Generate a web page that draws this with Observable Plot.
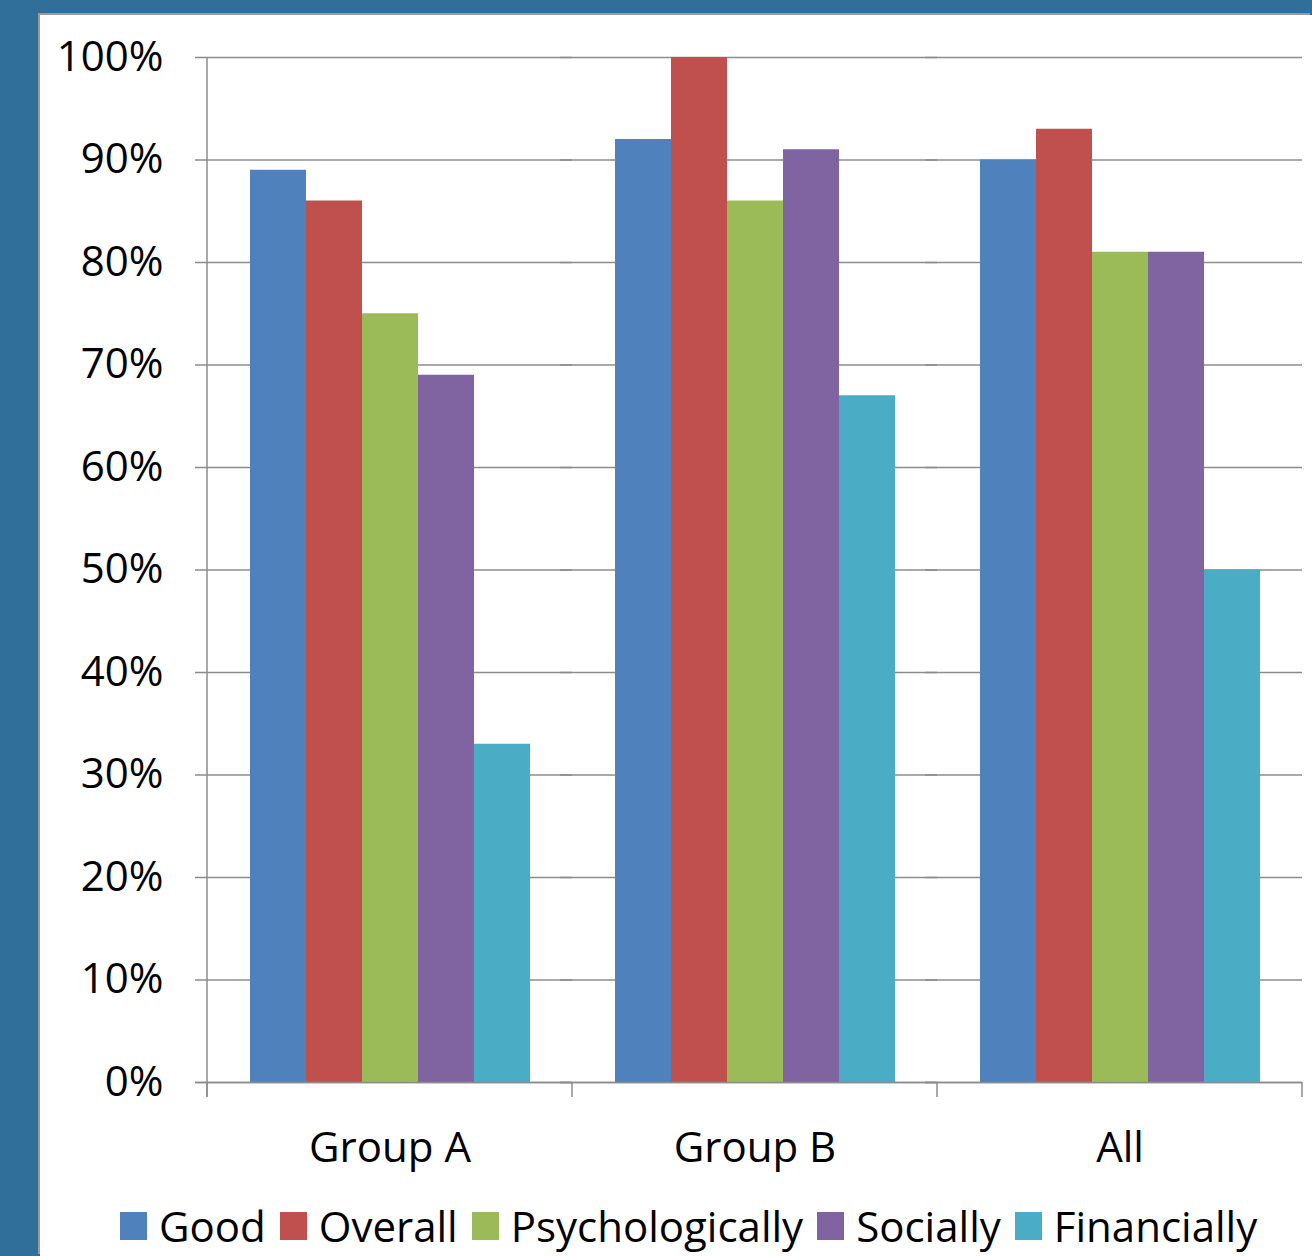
<!DOCTYPE html>
<html><head><meta charset="utf-8">
<script src="https://cdn.jsdelivr.net/npm/d3@7"></script>
<script src="https://cdn.jsdelivr.net/npm/@observablehq/plot@0.6"></script>
<style>
html,body{margin:0;padding:0;background:#2F6F9A;width:1312px;height:1256px;overflow:hidden;}
#panel{position:absolute;left:40px;top:15px;width:1272px;height:1241px;background:#fff;box-shadow:-2px -2px 0 #9a9a9a;}
#chart{position:absolute;left:0;top:0;}
#legend{position:absolute;left:80px;top:1182px;width:1190px;}
.lg-swatches-wrap{flex-wrap:nowrap !important;}
.lg-swatch{margin-right:14px !important;}
.lg-swatch > svg{margin-right:12px !important;}
</style></head><body>
<div id="panel"><div id="chart"></div><div id="legend"></div></div>
<script>
const groups = ["Group A", "Group B", "All"];
const series = ["Good", "Overall", "Psychologically", "Socially", "Financially"];
const good = [0.89, 0.92, 0.90];
const overall = [0.86, 1.00, 0.93];
const psychologically = [0.75, 0.86, 0.81];
const socially = [0.69, 0.91, 0.81];
const financially = [0.33, 0.67, 0.50];
const colors = ["#4F81BD", "#C0504D", "#9BBB59", "#8064A2", "#4BACC6"];
const yTicks = [0, 0.1, 0.2, 0.3, 0.4, 0.5, 0.6, 0.7, 0.8, 0.9, 1.0];

const seriesValues = [good, overall, psychologically, socially, financially];
const data = groups.flatMap((g, i) => series.map((s, j) => ({group: g, series: s, value: seriesValues[j][i]})));
const pct = d => Math.round(d * 100) + "%";
const font = "'Open Sans', 'Liberation Sans', sans-serif";
const gridColor = "#8c8c8c";

const chart = Plot.plot({
  width: 1272, height: 1180,
  marginLeft: 167, marginRight: 10, marginTop: 42, marginBottom: 113,
  style: {fontFamily: font, fontSize: "42px", color: "#000", background: "transparent", overflow: "visible"},
  fx: {domain: groups, padding: 0, label: null},
  x: {domain: series, paddingInner: 0, paddingOuter: 0.747, axis: null},
  y: {domain: [0, 1], label: null},
  color: {domain: series, range: colors},
  marks: [
    Plot.ruleY(yTicks, {stroke: gridColor, strokeWidth: 1.5, insetLeft: -12}),
    Plot.barY(data, {fx: "group", x: "series", y: "value", fill: "series"}),
    Plot.ruleY([0], {stroke: gridColor, strokeWidth: 1.5, insetLeft: -12}),
    Plot.frame({facet: "super", stroke: "none",
      render(index, scales, values, dims, context, next) {
        const sel = d3.create("svg:g");
        const x0 = dims.marginLeft, x1 = dims.width - dims.marginRight;
        const yb = dims.height - dims.marginBottom;
        const n = groups.length;
        for (let i = 0; i <= n; i++) {
          const x = x0 + (x1 - x0) * i / n;
          sel.append("line").attr("x1", x).attr("x2", x).attr("y1", yb).attr("y2", yb + 15)
            .attr("stroke", gridColor).attr("stroke-width", 1.5);
        }
        sel.append("line").attr("x1", x0).attr("x2", x0).attr("y1", dims.marginTop).attr("y2", yb + 15)
          .attr("stroke", gridColor).attr("stroke-width", 1.5);
        return sel.node();
      }}),
    Plot.axisY(yTicks, {tickSize: 0, tickPadding: 44, tickFormat: pct, label: null}),
    Plot.axisFx({anchor: "bottom", tickSize: 0, tickPadding: 50, label: null})
  ]
});
document.getElementById("chart").append(chart);

const legend = Plot.legend({
  color: {domain: series, range: colors},
  legend: "swatches",
  swatchWidth: 27, swatchHeight: 28,
  className: "lg",
  style: {fontFamily: font, fontSize: "42px", color: "#000", margin: 0}
});
document.getElementById("legend").append(legend);
</script>
</body></html>
